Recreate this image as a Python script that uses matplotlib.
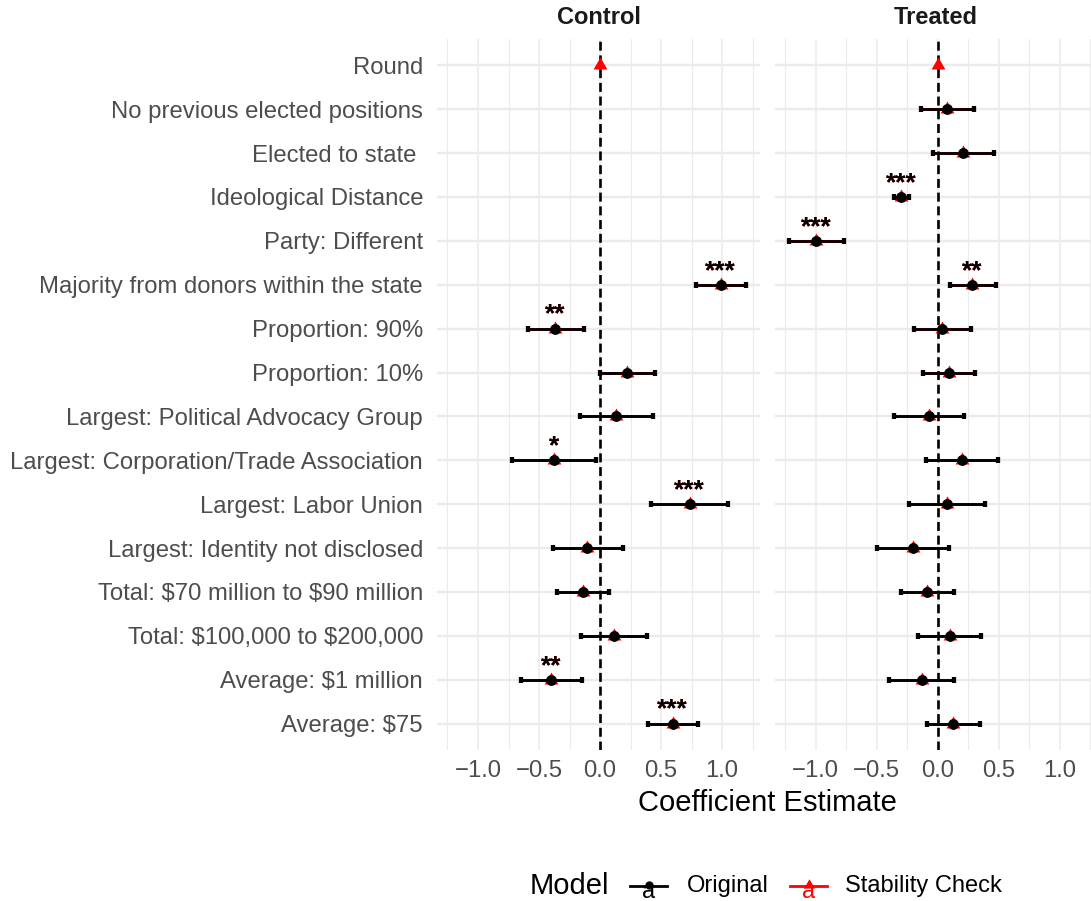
import numpy as np
import matplotlib
matplotlib.use("Agg")
import matplotlib.pyplot as plt
from matplotlib.lines import Line2D
from matplotlib.path import Path

plt.rcParams['font.family'] = ['Liberation Sans', 'DejaVu Sans']

nan = np.nan

categories = [
    "Round",
    "No previous elected positions",
    "Elected to state ",
    "Ideological Distance",
    "Party: Different",
    "Majority from donors within the state",
    "Proportion: 90%",
    "Proportion: 10%",
    "Largest: Political Advocacy Group",
    "Largest: Corporation/Trade Association",
    "Largest: Labor Union",
    "Largest: Identity not disclosed",
    "Total: $70 million to $90 million",
    "Total: $100,000 to $200,000",
    "Average: $1 million",
    "Average: $75",
]
panels = ["Control", "Treated"]
x_ticks = [-1.0, -0.5, 0.0, 0.5, 1.0]
x_tick_labels = ["\u22121.0", "\u22120.5", "0.0", "0.5", "1.0"]

# Original model
ctrl_orig_est = [nan, nan, nan, nan, nan, 0.99, -0.365, 0.22, 0.13, -0.38, 0.735, -0.105, -0.14, 0.112, -0.40, 0.595]
ctrl_orig_lo = [nan, nan, nan, nan, nan, 0.786, -0.59, 0.0, -0.165, -0.72, 0.415, -0.384, -0.356, -0.159, -0.649, 0.395]
ctrl_orig_hi = [nan, nan, nan, nan, nan, 1.195, -0.132, 0.447, 0.432, -0.036, 1.05, 0.186, 0.074, 0.386, -0.145, 0.803]
trt_orig_est = [nan, 0.077, 0.208, -0.299, -0.997, 0.285, 0.038, 0.09, -0.071, 0.197, 0.077, -0.205, -0.085, 0.101, -0.129, 0.129]
trt_orig_lo = [nan, -0.134, -0.033, -0.356, -1.216, 0.104, -0.191, -0.123, -0.353, -0.093, -0.23, -0.499, -0.301, -0.156, -0.397, -0.088]
trt_orig_hi = [nan, 0.296, 0.46, -0.236, -0.767, 0.479, 0.276, 0.307, 0.214, 0.496, 0.392, 0.093, 0.134, 0.356, 0.132, 0.351]

# Stability check model
ctrl_stab_est = [0.0, nan, nan, nan, nan, 0.99, -0.365, 0.22, 0.13, -0.38, 0.735, -0.105, -0.14, 0.112, -0.40, 0.595]
ctrl_stab_lo = [nan, nan, nan, nan, nan, 0.786, -0.59, 0.0, -0.165, -0.72, 0.415, -0.384, -0.356, -0.159, -0.649, 0.395]
ctrl_stab_hi = [nan, nan, nan, nan, nan, 1.195, -0.132, 0.447, 0.432, -0.036, 1.05, 0.186, 0.074, 0.386, -0.145, 0.803]
trt_stab_est = [0.0, 0.077, 0.208, -0.299, -0.997, 0.285, 0.038, 0.09, -0.071, 0.197, 0.077, -0.205, -0.085, 0.101, -0.129, 0.129]
trt_stab_lo = [nan, -0.134, -0.033, -0.356, -1.216, 0.104, -0.191, -0.123, -0.353, -0.093, -0.23, -0.499, -0.301, -0.156, -0.397, -0.088]
trt_stab_hi = [nan, 0.296, 0.46, -0.236, -0.767, 0.479, 0.276, 0.307, 0.214, 0.496, 0.392, 0.093, 0.134, 0.356, 0.132, 0.351]

ctrl_stars = ["", "", "", "", "", "***", "**", "", "", "*", "***", "", "", "", "**", "***"]
trt_stars = ["", "", "", "***", "***", "**", "", "", "", "", "", "", "", "", "", ""]

# centroid-centred triangle (like R's pch 17)
tri = Path([(0, 1), (-0.866, -0.5), (0.866, -0.5), (0, 1)],
           [Path.MOVETO, Path.LINETO, Path.LINETO, Path.CLOSEPOLY])

models = [
    ("Stability Check", "red", tri, 11.5,
     [(ctrl_stab_est, ctrl_stab_lo, ctrl_stab_hi), (trt_stab_est, trt_stab_lo, trt_stab_hi)]),
    ("Original", "black", "o", 7.8,
     [(ctrl_orig_est, ctrl_orig_lo, ctrl_orig_hi), (trt_orig_est, trt_orig_lo, trt_orig_hi)]),
]
stars = [ctrl_stars, trt_stars]

W, H = 1091, 901
fig = plt.figure(figsize=(W / 100, H / 100), dpi=100)
fig.patch.set_facecolor("white")


def fx(px):
    return px / W


def fy(py):
    return 1 - py / H


panel_top, panel_bot = 39, 750
panel_w = 323
lefts = [437, 774.5]
n = len(categories)
ypos = np.arange(n)[::-1].astype(float)

for k, left in enumerate(lefts):
    ax = fig.add_axes([fx(left), fy(panel_bot), panel_w / W, (panel_bot - panel_top) / H])
    for s in ax.spines.values():
        s.set_visible(False)
    ax.set_xlim(-1.336, 1.311)
    ax.set_ylim(-0.6, n - 1 + 0.6)
    ax.set_xticks(x_ticks)
    ax.set_xticklabels(x_tick_labels)
    ax.set_xticks([-1.25, -0.75, -0.25, 0.25, 0.75, 1.25], minor=True)
    ax.set_yticks(ypos)
    if k == 0:
        ax.set_yticklabels([c.replace("$", r"\$") for c in categories])
    else:
        ax.set_yticklabels([])
    ax.tick_params(axis="both", which="both", length=0, labelsize=17.2, labelcolor="#4d4d4d")
    ax.tick_params(axis="x", pad=7)
    ax.tick_params(axis="y", pad=10)
    ax.grid(which="major", axis="x", color="#ebebeb", lw=1.1)
    ax.grid(which="minor", axis="x", color="#ebebeb", lw=0.8)
    ax.grid(which="major", axis="y", color="#ebebeb", lw=1.7)
    ax.set_axisbelow(True)
    ax.axvline(0, color="black", lw=1.9, ls=(0, (3.4, 1.8)), zorder=2)

    for name, color, marker, ms, data in models:
        est, lo, hi = (np.array(a, dtype=float) for a in data[k])
        m = np.isfinite(lo) & np.isfinite(hi)
        ax.errorbar(est[m], ypos[m], xerr=[est[m] - lo[m], hi[m] - est[m]], fmt="none",
                    ecolor=color, elinewidth=2.0, capsize=2.0, capthick=3.0, zorder=3)
        p = np.isfinite(est)
        ax.plot(est[p], ypos[p], ls="none", marker=marker, ms=ms, color=color,
                markeredgewidth=0, zorder=4)
        for i, st in enumerate(stars[k]):
            if st and np.isfinite(est[i]):
                ax.annotate(st, (est[i], ypos[i]), xytext=(0, 5.0), textcoords="offset points",
                            ha="center", va="baseline", fontsize=19, fontweight="bold",
                            color=color, zorder=5)

    cx = left + panel_w / 2
    fig.text(fx(cx), fy(18), panels[k], ha="center", va="center", fontsize=17,
             fontweight="bold", color="#1a1a1a")

fig.text(fx(767), fy(803), "Coefficient Estimate", ha="center", va="center", fontsize=21, color="black")

# Legend
ly = 886
fig.text(fx(530), fy(ly), "Model", ha="left", va="center", fontsize=21, color="black")
leg_items = [("Original", "black", "o", 6.0, 630, 667, 687),
             ("Stability Check", "red", tri, 9.0, 790, 827, 845)]
for label, color, marker, ms, x0, x1, xt in leg_items:
    fig.add_artist(Line2D([fx(x0), fx(x1)], [fy(ly), fy(ly)], transform=fig.transFigure,
                          color=color, lw=2.0))
    xc = (x0 + x1) / 2
    fig.text(fx(xc), fy(ly + 6), "a", ha="center", va="center", fontsize=17, color=color)
    fig.add_artist(Line2D([fx(xc)], [fy(ly - 1)], transform=fig.transFigure, ls="none",
                          marker=marker, ms=ms, color=color, markeredgewidth=0))
    fig.text(fx(xt), fy(ly), label, ha="left", va="center", fontsize=17, color="black")

fig.savefig("out.png", dpi=100, facecolor="white")
